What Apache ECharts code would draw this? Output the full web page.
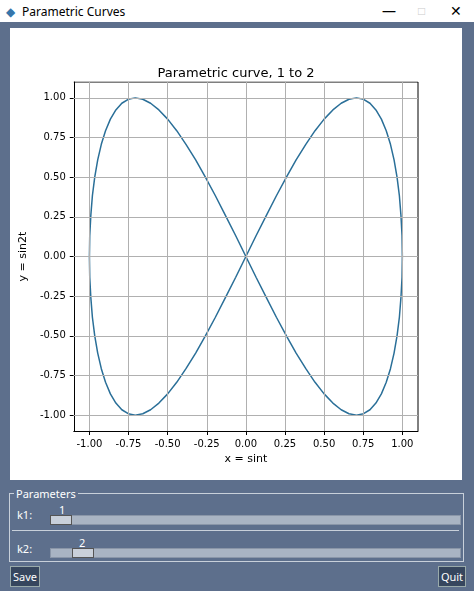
<!DOCTYPE html>
<html><head><meta charset="utf-8">
<script src="https://cdn.jsdelivr.net/npm/echarts@6/dist/echarts.min.js"></script>
<style>
body{margin:0;width:474px;height:591px;background:#5d6f8c;font-family:"DejaVu Sans",sans-serif;position:relative;overflow:hidden}
#bar{position:absolute;left:0;top:0;width:474px;height:22px;background:#fff;font:12px "Noto Sans",sans-serif;color:#000}
#chart{position:absolute;left:10px;top:28px;width:452px;height:452px;background:#fff}
.lbl{position:absolute;color:#fff;font:11px "Noto Sans",sans-serif}
.trough{position:absolute;left:50px;width:409px;height:8px;background:#a9b4c3;border:1px solid #8a96a8}
.thumb{position:absolute;width:20px;height:8px;background:#c9d0da;border:1px solid #555}
.btn{position:absolute;top:566px;height:19px;background:#36465e;border:1px solid #9aa;color:#fff;font:11px "Noto Sans",sans-serif;line-height:19px;text-align:center}
</style></head><body>
<div id="bar"><span style="position:absolute;left:6px;top:3px;color:#3776ab">&#9670;</span><span style="position:absolute;left:22px;top:3px">Parametric Curves</span>
<span style="position:absolute;left:382px;top:1px;font-size:14px">&#8212;</span><span style="position:absolute;left:418px;top:2px;color:#ccc">&#9633;</span><span style="position:absolute;left:450px;top:1px;font-size:14px">&#10005;</span></div>
<div id="chart"></div>
<div style="position:absolute;left:9px;top:493px;width:453px;height:67px;border:1px solid #c8d0da"></div>
<div class="lbl" style="left:14px;top:486px;background:#5d6f8c;padding:0 2px">Parameters</div>
<div class="lbl" style="left:17px;top:507px">k1:</div>
<div class="lbl" style="left:59px;top:502px">1</div>
<div class="trough" style="top:515px"></div><div class="thumb" style="left:50px;top:515px"></div>
<div style="position:absolute;left:12px;top:530px;width:447px;height:1px;background:#c8d0da"></div>
<div class="lbl" style="left:17px;top:541px">k2:</div>
<div class="lbl" style="left:79px;top:535px">2</div>
<div class="trough" style="top:548px"></div><div class="thumb" style="left:72px;top:548px"></div>
<div class="btn" style="left:10px;width:28px">Save</div>
<div class="btn" style="left:438px;width:26px">Quit</div>
<script>
const xs=[0,.065,.131,.195,.259,.321,.383,.442,.5,.556,.609,.659,.707,.752,.793,.831,.866,.897,.924,.947,.966,.981,.991,.998,1,
.998,.991,.981,.966,.947,.924,.897,.866,.831,.793,.752,.707,.659,.609,.556,.5,.442,.383,.321,.259,.195,.131,.065,0,
-.065,-.131,-.195,-.259,-.321,-.383,-.442,-.5,-.556,-.609,-.659,-.707,-.752,-.793,-.831,-.866,-.897,-.924,-.947,-.966,-.981,-.991,-.998,-1,
-.998,-.991,-.981,-.966,-.947,-.924,-.897,-.866,-.831,-.793,-.752,-.707,-.659,-.609,-.556,-.5,-.442,-.383,-.321,-.259,-.195,-.131,-.065,0];
const ys=[0,.131,.259,.383,.5,.609,.707,.793,.866,.924,.966,.991,1,.991,.966,.924,.866,.793,.707,.609,.5,.383,.259,.131,0,
-.131,-.259,-.383,-.5,-.609,-.707,-.793,-.866,-.924,-.966,-.991,-1,-.991,-.966,-.924,-.866,-.793,-.707,-.609,-.5,-.383,-.259,-.131,0,
.131,.259,.383,.5,.609,.707,.793,.866,.924,.966,.991,1,.991,.966,.924,.866,.793,.707,.609,.5,.383,.259,.131,0,
-.131,-.259,-.383,-.5,-.609,-.707,-.793,-.866,-.924,-.966,-.991,-1,-.991,-.966,-.924,-.866,-.793,-.707,-.609,-.5,-.383,-.259,-.131,0];
const ticks=[-1,-.75,-.5,-.25,0,.25,.5,.75,1];
const fmt=v=>v.toFixed(2);
const c=echarts.init(document.getElementById('chart'));
const grid=[...ticks.map(v=>({xAxis:v})),...ticks.map(v=>({yAxis:v}))];
const ax=(name,gap)=>({type:'value',min:-1.1,max:1.1,name,nameLocation:'middle',nameGap:gap,
 nameTextStyle:{color:'#000',fontSize:11,fontFamily:'DejaVu Sans'},
 axisLine:{show:true,onZero:false,lineStyle:{color:'#000'}},splitLine:{show:false},
 axisTick:{show:true,customValues:ticks,length:4,lineStyle:{color:'#000'}},
 axisLabel:{customValues:ticks,formatter:fmt,color:'#000',fontSize:10,fontFamily:'DejaVu Sans'}});
c.setOption({animation:false,
 title:{text:'Parametric curve, 1 to 2',left:'center',top:34,textStyle:{fontSize:13,fontWeight:'normal',color:'#000',fontFamily:'DejaVu Sans'}},
 grid:{left:56,right:44,top:54,bottom:49},
 xAxis:{...ax('x = sint',17)},
 yAxis:{...ax('y = sin2t',42)},
 series:[{type:'line',data:[],markLine:{silent:true,symbol:'none',label:{show:false},lineStyle:{color:'#b0b0b0',type:'solid',width:1},data:grid}},
 {type:'line',data:xs.map((x,i)=>[x,ys[i]]),smooth:false,showSymbol:false,lineStyle:{color:'#2a6f98',width:1.5}},
 {type:'line',data:[[-1.1,1.1],[1.1,1.1],[1.1,-1.1]],showSymbol:false,lineStyle:{color:'#000',width:1}}]
});
</script></body></html>
